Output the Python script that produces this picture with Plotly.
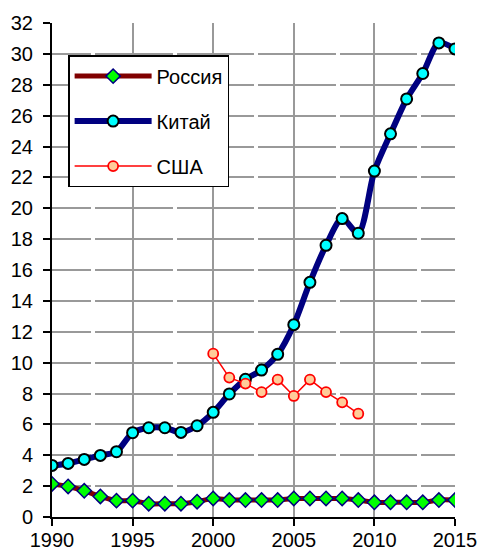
import plotly.graph_objects as go

years = list(range(1990, 2016))
russia = [2.14, 1.98, 1.70, 1.33, 1.06, 1.06, 0.86, 0.86, 0.86, 0.99,
          1.20, 1.10, 1.10, 1.10, 1.10, 1.20, 1.20, 1.20, 1.20, 1.10,
          0.95, 0.95, 0.95, 0.95, 1.10, 1.10]
china = [3.34, 3.47, 3.73, 3.99, 4.23, 5.46, 5.78, 5.78, 5.48, 5.91,
         6.78, 7.97, 8.92, 9.52, 10.54, 12.46, 15.2, 17.6, 19.33, 18.38,
         22.41, 24.82, 27.08, 28.73, 30.71, 30.32]
usa_years = list(range(2000, 2010))
usa = [10.58, 9.03, 8.64, 8.09, 8.9, 7.84, 8.9, 8.09, 7.43, 6.69]

x_ticks = [1990, 1995, 2000, 2005, 2010, 2015]
y_ticks = list(range(0, 33, 2))

FONT = "Liberation Sans, Arial, sans-serif"

fig = go.Figure()
fig.add_trace(go.Scatter(
    x=years, y=russia, name="Россия", mode="lines+markers", legendgroup="r",
    line=dict(color="#800000", width=5, shape="spline", smoothing=0.8),
    marker=dict(symbol="diamond", size=11, color="#00ff00",
                line=dict(color="#000080", width=1.5)),
))
fig.add_trace(go.Scatter(
    x=years, y=china, name="Китай", mode="lines+markers", legendgroup="c",
    line=dict(color="#000080", width=6, shape="spline", smoothing=0.8),
    marker=dict(symbol="circle", size=11, color="#00ffff",
                line=dict(color="#000000", width=2)),
))
fig.add_trace(go.Scatter(
    x=usa_years, y=usa, name="США", mode="lines+markers", legendgroup="u",
    line=dict(color="#ff0000", width=1.5),
    marker=dict(symbol="circle", size=10, color="#ffcc99",
                line=dict(color="#ff0000", width=1.8)),
))

fig.update_layout(
    width=482, height=557,
    margin=dict(l=52, r=27, t=23, b=40, pad=0, autoexpand=False),
    paper_bgcolor="white", plot_bgcolor="white",
    font=dict(family=FONT, size=20, color="black"),
    showlegend=True,
    legend=dict(
        x=0.04, y=0.935, xanchor="left", yanchor="top",
        bgcolor="white", bordercolor="black", borderwidth=1.5,
        font=dict(family=FONT, size=20, color="black"),
        tracegroupgap=16, itemwidth=77,
    ),
    xaxis=dict(
        range=[1990, 2015], tickvals=x_ticks, ticktext=[str(v) for v in x_ticks],
        showgrid=True, gridcolor="#999999", gridwidth=1.8,
        showline=True, linecolor="black", linewidth=2,
        ticks="outside", ticklen=7, tickwidth=1.5, tickcolor="black",
        zeroline=False, tickfont=dict(family=FONT, size=20), automargin=False,
        ticklabelstandoff=-3,
    ),
    yaxis=dict(
        range=[0, 32], tickvals=y_ticks,
        showgrid=True, gridcolor="#999999", gridwidth=1.8,
        griddash="39px,4px,38.5px,0px",
        showline=True, linecolor="black", linewidth=2,
        ticks="outside", ticklen=7, tickwidth=1.5, tickcolor="black",
        zeroline=False, tickfont=dict(family=FONT, size=20),
        ticklabelstandoff=6, automargin=False,
    ),
)

fig.write_html("out.html", config={"displayModeBar": False},
               post_script="document.body.style.margin='0';document.body.style.overflow='hidden';")
